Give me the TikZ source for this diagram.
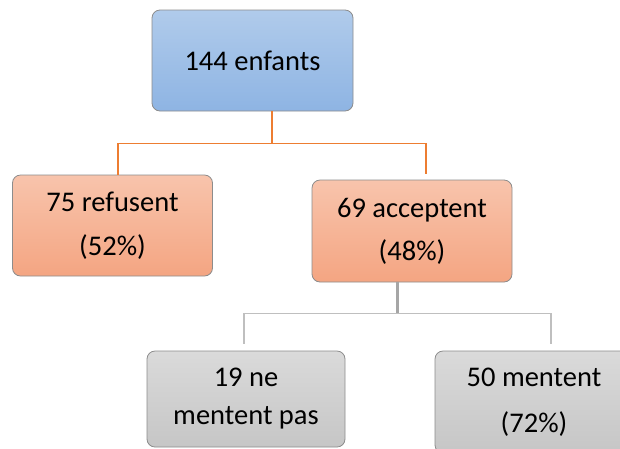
\documentclass[tikz,border=0pt]{standalone}
\usepackage{fontspec}
\setmainfont{Carlito}
\usetikzlibrary{positioning}
\definecolor{bleuHaut}{HTML}{B0CBEB}
\definecolor{bleuBas}{HTML}{8EB4E3}
\definecolor{orangeHaut}{HTML}{F8C4AC}
\definecolor{orangeBas}{HTML}{F4A582}
\definecolor{grisHaut}{HTML}{DADADA}
\definecolor{grisBas}{HTML}{C6C6C6}
\definecolor{orangeLien}{HTML}{ED7D31}
\tikzset{
	boite/.style={draw=black!45, line width=0.8pt, rounded corners=8pt, inner sep=0pt,
		minimum width=200pt, minimum height=101pt, align=center},
	bleu/.style={boite, top color=bleuHaut, bottom color=bleuBas},
	orange/.style={boite, top color=orangeHaut, bottom color=orangeBas},
	gris/.style={boite, minimum width=198pt, minimum height=96pt, top color=grisHaut, bottom color=grisBas},
	lienO/.style={draw=orangeLien, line width=1.5pt},
	lienG/.style={draw=black!35, line width=3pt},
	lienGfin/.style={draw=black!25, line width=1.5pt},
}

\begin{document}
\begin{tikzpicture}[x=1pt, y=-1pt]
			\useasboundingbox (0,0) rectangle (620,448);
			\clip (0,0) rectangle (620,448);
			% 方框
			\node[bleu, minimum width=201pt, font=\fontsize{28.5}{34}\selectfont] (enfants) at (252.5,60.5) {144 enfants};
			\node[orange, font=\fontsize{28.5}{44}\selectfont] (refus) at (112.5,225.5) {75 refusent\\(52\%)};
			\node[orange, minimum height=102pt, font=\fontsize{28.5}{43}\selectfont] (accept) at (412,231) {69 acceptent\\(48\%)};
			\node[gris, font=\fontsize{28.5}{38}\selectfont] (nonment) at (246,399) {19 ne\\mentent pas};
			\node[gris, minimum height=102pt, font=\fontsize{28.5}{46}\selectfont] (ment) at (534,402) {50 mentent\\(72\%)};
			% 连线
			\draw[lienO] ([xshift=19.5pt]enfants.south) -- ++(0,32) coordinate (bO);
			\draw[lienO] ([xshift=5.5pt]refus.north) |- (bO) -| ([xshift=14pt, yshift=6pt]accept.north);
			\draw[lienG] ([xshift=-15pt]accept.south) -- ++(0,31) coordinate (bG);
			\draw[lienGfin] ([xshift=-2pt, yshift=7pt]nonment.north) |- (bG) -| ([xshift=17pt, yshift=7pt]ment.north);
		\end{tikzpicture}
\end{document}
